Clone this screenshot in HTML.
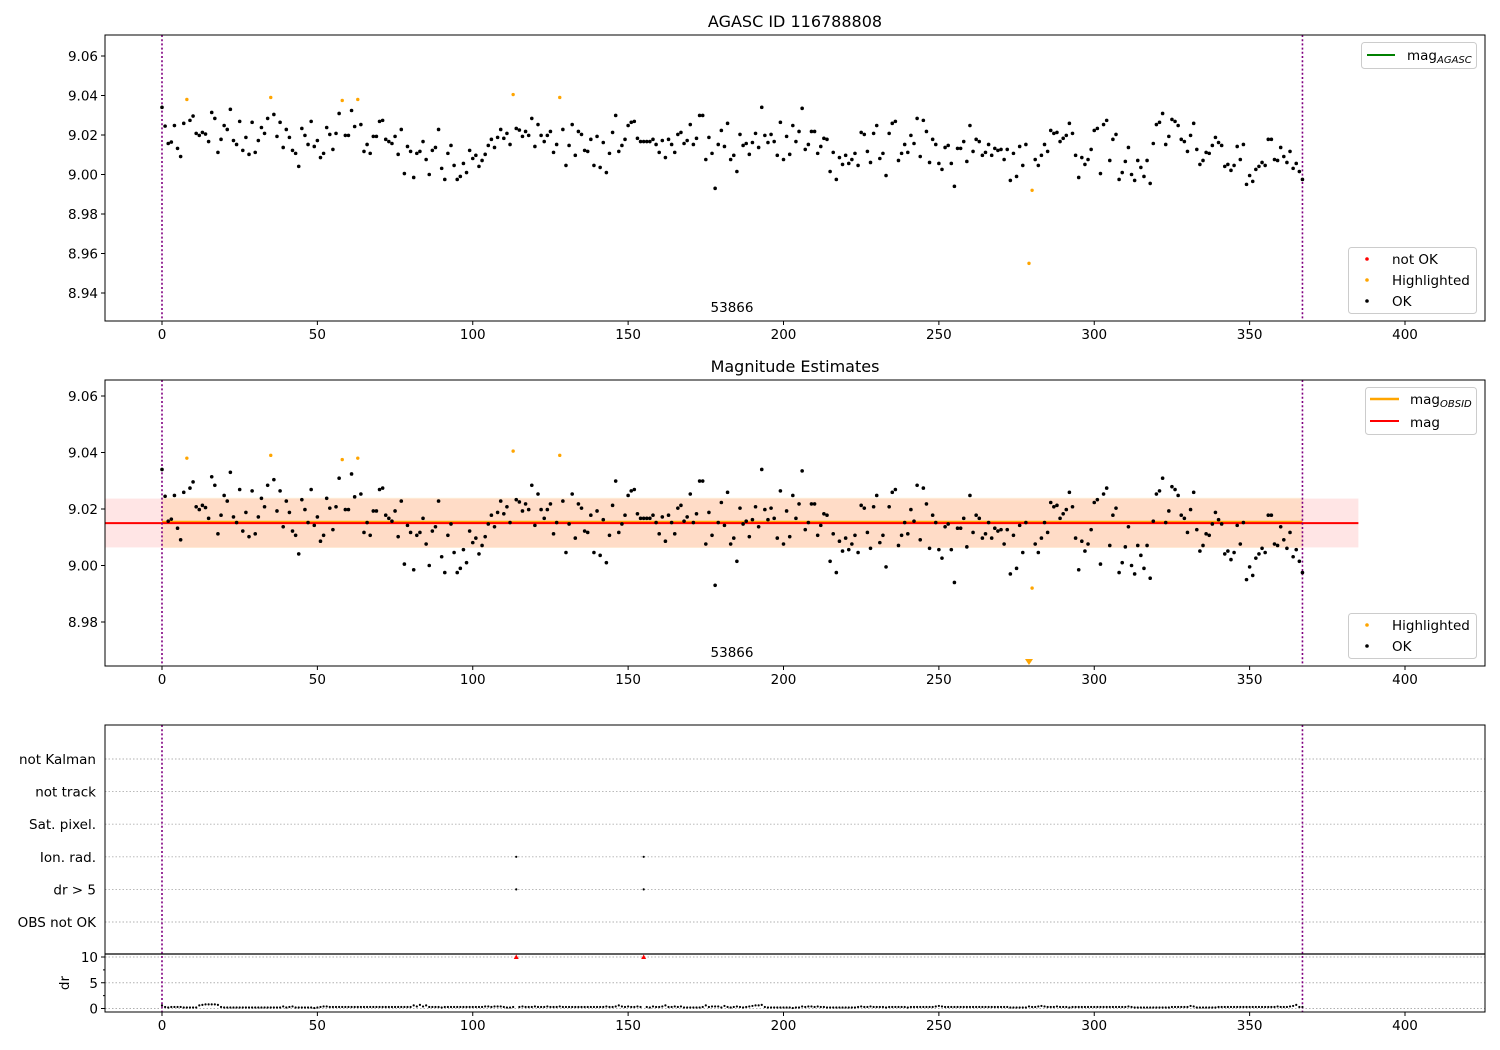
<!DOCTYPE html>
<html><head><meta charset="utf-8">
<style>
html,body{margin:0;padding:0;background:#fff;}
svg{display:block;font-family:"DejaVu Sans","Liberation Sans",sans-serif;}
</style></head>
<body>
<svg id="fig" width="1500" height="1050" viewBox="0 0 1500 1050" xmlns="http://www.w3.org/2000/svg"></svg>
<script>
// ---- data ----
const magValues = [
9.0340,9.0245,9.0157,9.0164,9.0248,9.0132,9.0091,9.0259,9.0380,9.0274,
9.0296,9.0208,9.0198,9.0213,9.0205,9.0167,9.0314,9.0284,9.0112,9.0178,
9.0248,9.0228,9.0330,9.0172,9.0152,9.0269,9.0122,9.0188,9.0102,9.0264,
9.0112,9.0172,9.0238,9.0208,9.0284,9.0390,9.0304,9.0193,9.0264,9.0137,
9.0228,9.0188,9.0122,9.0107,9.0041,9.0233,9.0198,9.0152,9.0269,9.0142,
9.0172,9.0086,9.0107,9.0238,9.0203,9.0127,9.0208,9.0309,9.0375,9.0198,
9.0198,9.0324,9.0243,9.0380,9.0253,9.0117,9.0152,9.0107,9.0193,9.0193,
9.0269,9.0274,9.0178,9.0167,9.0157,9.0193,9.0102,9.0228,9.0005,9.0142,
9.0117,8.9985,9.0107,9.0117,9.0167,9.0076,9.0000,9.0122,9.0137,9.0228,
9.0031,8.9975,9.0107,9.0147,9.0046,8.9975,8.9990,9.0056,9.0010,9.0122,
9.0081,9.0097,9.0041,9.0071,9.0102,9.0147,9.0178,9.0137,9.0188,
9.0228,9.0183,9.0208,9.0152,9.0405,9.0233,9.0225,9.0193,9.0218,9.0198,
9.0284,9.0142,9.0253,9.0198,9.0167,9.0198,9.0218,9.0112,9.0152,9.0390,
9.0228,9.0046,9.0147,9.0253,9.0097,9.0218,9.0203,9.0122,9.0117,9.0178,
9.0046,9.0193,9.0036,9.0162,9.0010,9.0107,9.0213,9.0299,9.0117,9.0147,
9.0178,9.0248,9.0264,9.0269,9.0183,9.0167,9.0167,9.0167,9.0167,9.0178,
9.0152,9.0112,9.0172,9.0086,9.0178,9.0152,9.0112,9.0203,9.0213,9.0157,
9.0172,9.0253,9.0152,9.0183,9.0299,9.0299,9.0076,9.0188,9.0107,8.9930,
9.0152,9.0223,9.0142,9.0259,9.0076,9.0097,9.0015,9.0203,9.0147,9.0157,
9.0102,9.0162,9.0208,9.0137,9.0340,9.0198,9.0162,9.0203,9.0167,9.0097,
9.0264,9.0076,9.0193,9.0102,9.0248,9.0167,9.0218,9.0335,9.0127,9.0152,
9.0218,9.0218,9.0107,9.0142,9.0183,9.0178,9.0015,9.0112,8.9975,9.0086,
9.0051,9.0097,9.0056,9.0076,9.0107,9.0046,
9.0213,9.0203,9.0117,9.0061,9.0208,9.0248,9.0081,9.0107,8.9995,9.0208,
9.0259,9.0269,9.0071,9.0107,9.0152,9.0112,9.0198,9.0157,9.0284,9.0091,
9.0274,9.0218,9.0061,9.0178,9.0152,9.0056,9.0026,9.0137,9.0147,9.0056,
8.9940,9.0132,9.0132,9.0167,9.0066,9.0248,9.0117,9.0178,9.0167,9.0097,
9.0112,9.0152,9.0097,9.0132,9.0122,9.0127,9.0076,9.0127,8.9970,9.0107,
8.9990,9.0142,9.0046,9.0152,8.9550,8.9920,
9.0076,9.0046,9.0097,9.0152,9.0117,9.0223,9.0208,9.0213,9.0167,9.0183,
9.0198,9.0259,9.0208,9.0097,8.9985,9.0086,9.0051,9.0076,9.0127,9.0223,
9.0233,9.0005,9.0253,9.0274,9.0071,9.0178,9.0203,8.9975,9.0010,9.0066,
9.0137,9.0000,8.9970,9.0071,9.0036,8.9990,9.0071,8.9955,9.0157,9.0253,
9.0264,9.0309,9.0152,9.0193,9.0279,9.0269,9.0248,9.0178,9.0167,9.0117,
9.0198,9.0259,9.0127,9.0051,9.0071,9.0112,9.0107,9.0147,9.0188,9.0162,
9.0147,9.0041,9.0051,9.0021,9.0046,9.0142,9.0076,9.0152,8.9950,8.9995,
8.9965,9.0026,9.0041,9.0061,9.0046,9.0178,9.0178,9.0076,9.0071,9.0137,
9.0091,9.0061,9.0117,9.0031,9.0056,9.0015,8.9975
];
const highlightedIdx = [8,35,58,63,113,128,279,280];
const drValues = [
0.6,0.3,0.2,0.3,0.3,0.3,0.3,0.2,0.2,0.2,0.2,0.2,0.6,0.7,0.8,0.8,0.8,0.8,0.7,0.3,
0.2,0.2,0.2,0.2,0.2,0.2,0.2,0.2,0.2,0.2,0.2,0.2,0.2,0.2,0.2,0.2,0.2,0.2,0.2,0.4,
0.2,0.3,0.4,0.2,0.2,0.2,0.2,0.2,0.2,0.1,0.2,0.3,0.4,0.4,0.3,0.3,0.3,0.3,0.3,0.3,
0.3,0.3,0.3,0.3,0.3,0.3,0.3,0.3,0.3,0.3,0.3,0.3,0.3,0.3,0.3,0.3,0.3,0.3,0.3,0.3,
0.3,0.6,0.4,0.7,0.4,0.6,0.3,0.3,0.3,0.3,0.2,0.3,0.3,0.3,0.3,0.3,0.3,0.3,0.3,0.3,
0.3,0.3,0.3,0.3,0.4,0.4,0.3,0.4,0.4,0.4,0.3,0.2,0.2,0.3,12,0.3,0.4,0.3,0.3,0.3,
0.4,0.3,0.3,0.3,0.4,0.3,0.3,0.3,0.4,0.3,0.3,0.3,0.3,0.3,0.3,0.3,0.3,0.3,0.3,0.3,
0.3,0.3,0.3,0.4,0.3,0.3,0.4,0.6,0.4,0.3,0.4,0.3,0.3,0.4,0.3,12,0.3,0.2,0.4,0.3,
0.3,0.4,0.6,0.3,0.3,0.4,0.3,0.4,0.2,0.2,0.2,0.2,0.2,0.2,0.3,0.6,0.3,0.4,0.4,0.4,
0.2,0.5,0.3,0.2,0.3,0.4,0.3,0.2,0.3,0.4,0.5,0.6,0.6,0.7,0.3,0.2,0.2,0.2,0.2,0.2,
0.2,0.2,0.2,0.1,0.2,0.2,0.4,0.3,0.4,0.4,0.3,0.4,0.3,0.3,0.2,0.2,0.2,0.2,0.2,0.2,
0.2,0.2,0.2,0.2,0.3,0.4,0.3,0.3,0.4,0.3,0.3,0.3,0.3,0.2,0.3,0.3,0.3,0.3,0.3,0.3,
0.2,0.3,0.3,0.3,0.3,0.3,0.3,0.3,0.3,0.4,0.5,0.4,0.3,0.3,0.3,0.3,0.3,0.3,0.3,0.3,
0.3,0.3,0.3,0.3,0.3,0.3,0.3,0.3,0.3,0.3,0.3,0.3,0.3,0.2,0.2,0.2,0.2,0.2,0.2,0.4,
0.3,0.3,0.4,0.5,0.4,0.3,0.3,0.3,0.4,0.3,0.3,0.3,0.2,0.3,0.3,0.3,0.3,0.3,0.3,0.3,
0.3,0.3,0.3,0.3,0.3,0.3,0.3,0.3,0.3,0.3,0.3,0.4,0.3,0.2,0.2,0.2,0.2,0.2,0.2,0.2,
0.2,0.2,0.2,0.2,0.2,0.3,0.3,0.3,0.3,0.3,0.3,0.5,0.4,0.2,0.2,0.2,0.2,0.2,0.2,0.2,
0.3,0.3,0.3,0.3,0.3,0.3,0.3,0.3,0.3,0.3,0.3,0.3,0.3,0.3,0.3,0.3,0.3,0.3,0.3,0.4,
0.3,0.3,0.3,0.4,0.5,0.7,0.3,0.3
];
const flagCategories = ["OBS not OK","dr > 5","Ion. rad.","Sat. pixel.","not track","not Kalman"];
const flagPointsIdx = [114,114,155,155];
const flagPointsCat = [1,2,1,2];
const xTicks = [0,50,100,150,200,250,300,350,400];
const topYTicks = [9.06,9.04,9.02,9.00,8.98,8.96,8.94];
const midYTicks = [9.06,9.04,9.02,9.00,8.98];
const drTicks = [0,5,10];
const meanMag = 9.015;
const obsMag = 9.0155;
const magLow = 9.0064, magHigh = 9.0237;
const obsStart = 0, obsEnd = 367;
const obsLabel = "53866";

// ---- axes ----
const L=105,R=1485;
const xs = v => 162 + v*3.1075;
const yT = m => 174.5 - (m-9)*1975;
const yM = m => 396 + (9.06-m)*2825;
const yCat = c => 922 - c*32.6;
const yD = d => 1008.5 - d*5.15;
const NS="http://www.w3.org/2000/svg";
const svg=document.getElementById('fig');
function el(tag,attrs,parent){const e=document.createElementNS(NS,tag);for(const k in attrs)e.setAttribute(k,attrs[k]);(parent||svg).appendChild(e);return e;}
function txt(x,y,s,anchor,size,parent){const t=el('text',{x:x,y:y,'text-anchor':anchor||'middle','font-size':size||13.5,fill:'#000'},parent);t.textContent=s;return t;}

function xAxis(yb,g){
  xTicks.forEach(v=>{
    const t=el('line',{x1:xs(v),x2:xs(v),y1:yb,y2:yb+4,stroke:'#000','stroke-width':1},g);
    
    
    const lb=txt(xs(v),yb+18,String(v),'middle',13.5,g);
    
    
  });
}
function yAxis(ticks,yf,g,fmt){
  ticks.forEach(v=>{
    el('line',{x1:L-4,x2:L,y1:yf(v),y2:yf(v),stroke:'#000'},g);
    const lb=txt(L-7,yf(v)+5,fmt(v),'end',13.5,g);
    
    
  });
}
function vlines(y1,y2,g){
  [obsStart,obsEnd].forEach(v=>{
    const l=el('line',{x1:xs(v),x2:xs(v),y1:y1,y2:y2,stroke:'#800080','stroke-width':1.6,'stroke-dasharray':'2,2.2'},g);
    
    
  });
}
function dot(x,y,r,c,g){const d=el('circle',{cx:x,cy:y,r:r,fill:c},g);return d;}

// ===== panel 1 =====
const g1=el('g',{});  
const t1=txt(795,27,'AGASC ID 116788808','middle',16,g1);  
vlines(35,321,g1);
magValues.forEach((m,i)=>{
  const hl=highlightedIdx.includes(i);
  const d=dot(xs(i),yT(m),hl?1.7:1.8,hl?'#ffa500':'#000',g1);
  
  
});
const o1=txt(732,312,obsLabel,'middle',13.5,g1);  
el('rect',{x:L,y:35,width:R-L,height:286,fill:'none',stroke:'#000','stroke-width':1},g1);
xAxis(321,g1); yAxis(topYTicks,yT,g1,v=>v.toFixed(2));
const lg1=el('g',{},g1);  
el('rect',{x:1361.5,y:42.5,width:115,height:26,rx:3,fill:'#fff',stroke:'#ccc'},lg1);
el('line',{x1:1367,x2:1395,y1:55,y2:55,stroke:'#008000','stroke-width':2},lg1);
const lt=txt(1407,60,'mag','start',13.5,lg1);
const sub=el('tspan',{'font-size':10,'font-style':'italic',dy:3},lt); sub.textContent='AGASC';
const lg2=el('g',{},g1);  
el('rect',{x:1348.5,y:247.5,width:128,height:66,rx:3,fill:'#fff',stroke:'#ccc'},lg2);
[['not OK','#ff0000',259],['Highlighted','#ffa500',280],['OK','#000',301]].forEach(e=>{
  dot(1367,e[2],1.8,e[1],lg2); txt(1392,e[2]+5,e[0],'start',13.5,lg2);
});

// ===== panel 2 =====
const g2=el('g',{});  
const t2=txt(795,372,'Magnitude Estimates','middle',16,g2);  
const band1=el('rect',{x:L,y:yM(magHigh),width:xs(385)-L,height:yM(magLow)-yM(magHigh),fill:'#ff0000','fill-opacity':0.1},g2);
 
const band2=el('rect',{x:xs(obsStart),y:yM(magHigh+0.0003),width:xs(obsEnd)-xs(obsStart),height:yM(magLow-0.0002)-yM(magHigh+0.0003),fill:'#ffa500','fill-opacity':0.13},g2);
 
const ol=el('line',{x1:xs(obsStart),x2:xs(obsEnd),y1:yM(obsMag),y2:yM(obsMag),stroke:'#ffa500','stroke-width':2},g2);
 
const ml=el('line',{x1:L,x2:xs(385),y1:yM(meanMag),y2:yM(meanMag),stroke:'#ff0000','stroke-width':2},g2);
 
vlines(380,666,g2);
magValues.forEach((m,i)=>{
  const hl=highlightedIdx.includes(i);
  if(m<8.9644){
    const x=xs(i),y=662;
    const tr=el('path',{d:`M${x-4},${y-3}L${x+4},${y-3}L${x},${y+3}Z`,fill:'#ffa500'},g2);
     
    return;
  }
  const d=dot(xs(i),yM(m),hl?1.7:1.8,hl?'#ffa500':'#000',g2);
  
  
});
const o2=txt(732,657,obsLabel,'middle',13.5,g2);  
el('rect',{x:L,y:380,width:R-L,height:286,fill:'none',stroke:'#000'},g2);
xAxis(666,g2); yAxis(midYTicks,yM,g2,v=>v.toFixed(2));
const lg3=el('g',{},g2);  
el('rect',{x:1365.5,y:387.5,width:111,height:47,rx:3,fill:'#fff',stroke:'#ccc'},lg3);
el('line',{x1:1370,x2:1399,y1:399,y2:399,stroke:'#ffa500','stroke-width':2.5},lg3);
el('line',{x1:1370,x2:1399,y1:421,y2:421,stroke:'#ff0000','stroke-width':2},lg3);
const lt3=txt(1410,404,'mag','start',13.5,lg3);
const sub3=el('tspan',{'font-size':10,'font-style':'italic',dy:3},lt3); sub3.textContent='OBSID';
txt(1410,427,'mag','start',13.5,lg3);
const lg4=el('g',{},g2);  
el('rect',{x:1348.5,y:613.5,width:128,height:45,rx:3,fill:'#fff',stroke:'#ccc'},lg4);
[['Highlighted','#ffa500',625],['OK','#000',646]].forEach(e=>{
  dot(1367,e[2],1.8,e[1],lg4); txt(1392,e[2]+5,e[0],'start',13.5,lg4);
});

// ===== panel 3 =====
const g3=el('g',{});  
flagCategories.forEach((c,k)=>{
  el('line',{x1:L,x2:R,y1:yCat(k),y2:yCat(k),stroke:'#b0b0b0','stroke-dasharray':'1.5,2','stroke-width':0.9},g3);
  const lb=txt(L-9,yCat(k)+5,c,'end',13.5,g3);
   
});
drTicks.forEach(v=>{
  el('line',{x1:L,x2:R,y1:yD(v),y2:yD(v),stroke:'#b0b0b0','stroke-dasharray':'1.5,2','stroke-width':0.9},g3);
});
[2.5,7.5].forEach(v=>el('line',{x1:L-2,x2:L,y1:yD(v),y2:yD(v),stroke:'#000'},g3));
yAxis(drTicks,yD,g3,v=>String(v));
const dl=el('text',{x:0,y:0,'font-size':13.5,'text-anchor':'middle',transform:'translate(69,983) rotate(-90)'},g3); dl.textContent='dr';
 
vlines(725,1012,g3);
flagPointsIdx.forEach((ix,k)=>{
  const d=dot(xs(ix),yCat(flagPointsCat[k]),1.1,'#000',g3);
   
});
drValues.forEach((v,i)=>{
  if(v>10){
    const x=xs(i),y=yD(10);
    const tr=el('path',{d:`M${x-2.5},${y+2}L${x+2.5},${y+2}L${x},${y-2.5}Z`,fill:'#ff0000'},g3);
     
    return;
  }
  const d=dot(xs(i),yD(v),1.1,'#000',g3);
   
});
el('line',{x1:L,x2:R,y1:954,y2:954,stroke:'#000','stroke-width':1.2},g3);
el('rect',{x:L,y:725,width:R-L,height:287,fill:'none',stroke:'#000'},g3);
xAxis(1012,g3);
</script>
</body></html>
